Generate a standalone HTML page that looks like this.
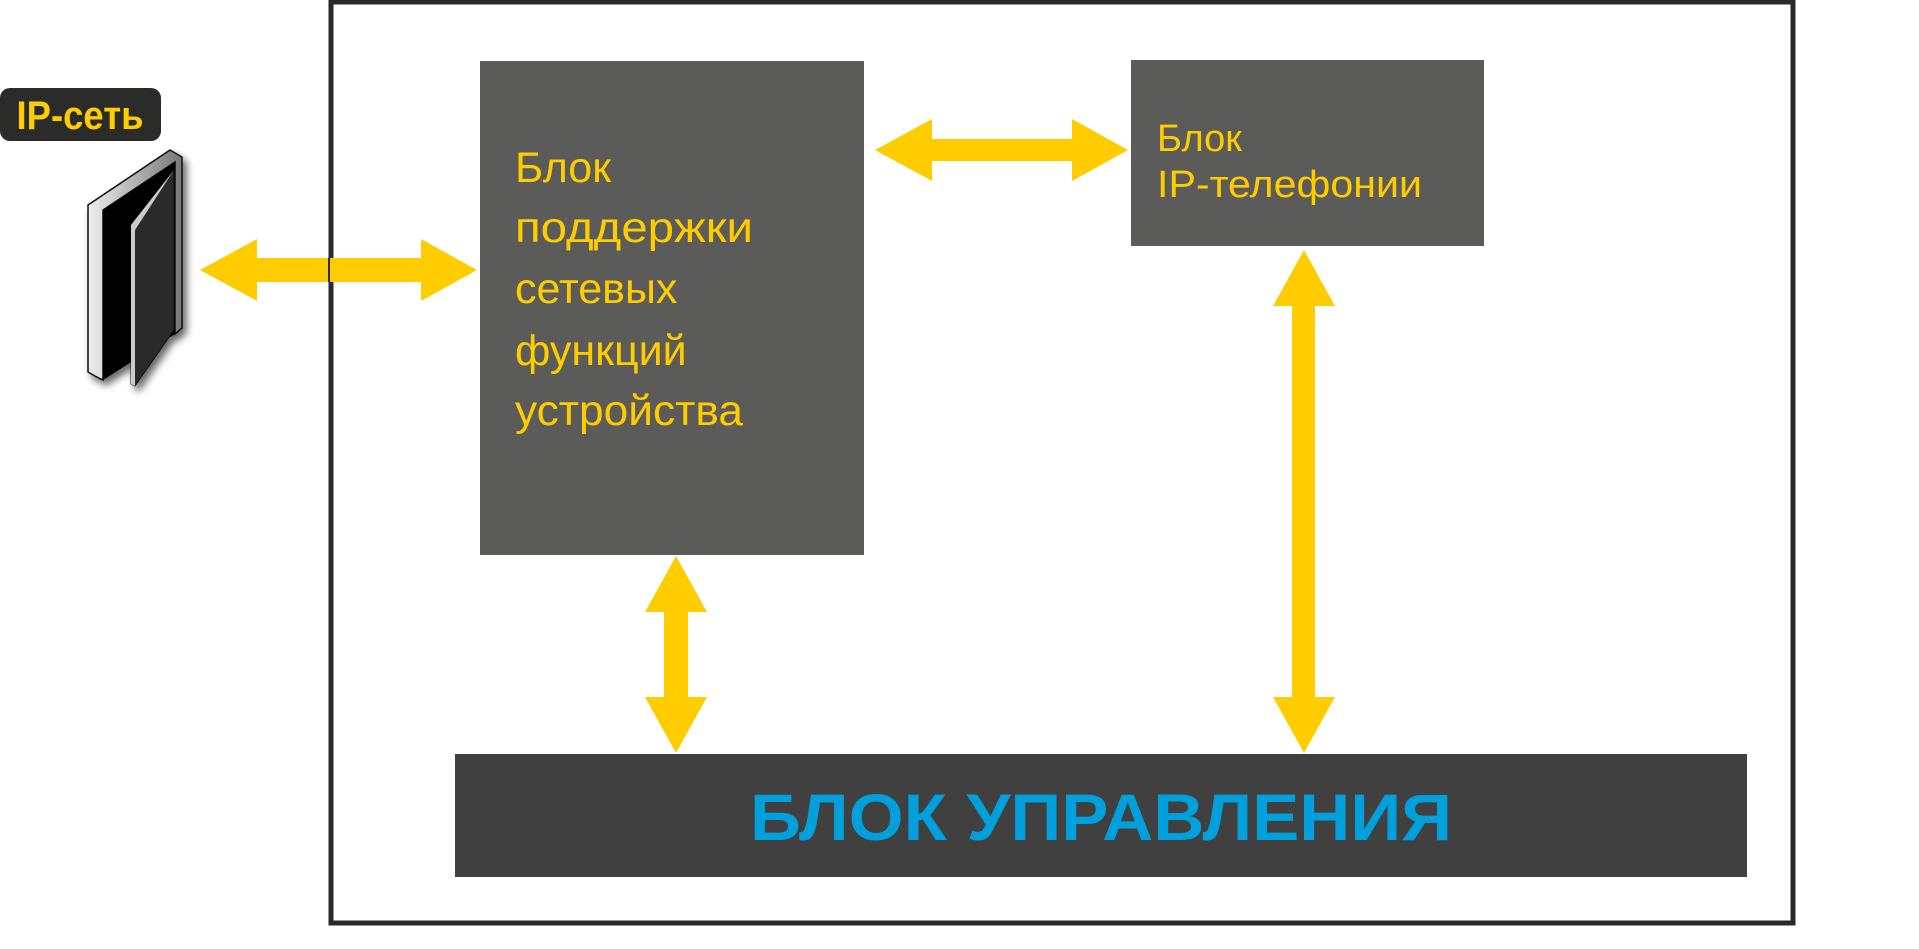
<!DOCTYPE html>
<html><head><meta charset="utf-8"><style>
html,body{margin:0;padding:0;background:#fff;width:1919px;height:949px;overflow:hidden}
svg{display:block}
</style></head><body>
<svg width="1919" height="949" viewBox="0 0 1919 949" xmlns="http://www.w3.org/2000/svg">
<defs>
<filter id="sh" x="-30%" y="-30%" width="160%" height="160%"><feGaussianBlur in="SourceAlpha" stdDeviation="4"/><feOffset dx="4" dy="5"/><feComponentTransfer><feFuncA type="linear" slope="0.6"/></feComponentTransfer><feMerge><feMergeNode/><feMergeNode in="SourceGraphic"/></feMerge></filter>
<linearGradient id="fr" x1="0" x2="1"><stop offset="0" stop-color="#eee"/><stop offset="1" stop-color="#777"/></linearGradient>
</defs>
<rect x="331" y="2" width="1462" height="921" fill="#fff" stroke="#2a2a2a" stroke-width="5"/>
<rect x="0" y="88" width="161" height="53" rx="10" fill="#2b2b29"/>
<text x="80" y="129" text-anchor="middle" font-family="Liberation Sans, sans-serif" font-weight="bold" font-size="40" fill="#ffcc00" textLength="127" lengthAdjust="spacingAndGlyphs">IP-сеть</text>
<g filter="url(#sh)">
<polygon points="88,205 170,150 182,157 182,328 175,334 175,162 103,210 103,380 95,376 88,372" fill="url(#fr)" stroke="#111" stroke-width="1.5"/>
<polygon points="103,210 175,162 175,334 103,380" fill="#000"/>
<polygon points="131,225 174,170 174,330 135,386 131,384" fill="#2b2b2b" stroke="#111" stroke-width="1"/>
<polygon points="131,225 174,170 170,176 135,230 135,386 131,384" fill="#ccc"/>
</g>
<polygon points="200,270 257,239 257,258 421,258 421,239 477,270 421,301 421,282 257,282 257,301" fill="#ffcc00"/>
<line x1="329" y1="258" x2="329" y2="282" stroke="#2a2a2a" stroke-width="2"/>
<rect x="480" y="61" width="384" height="494" fill="#5b5b59"/>
<g font-family="Liberation Sans, sans-serif" font-size="43" fill="#ffcc00">
<text x="515" y="182">Блок</text>
<text x="515" y="242" textLength="238" lengthAdjust="spacingAndGlyphs">поддержки</text>
<text x="515" y="303">сетевых</text>
<text x="515" y="365">функций</text>
<text x="515" y="425" textLength="228" lengthAdjust="spacingAndGlyphs">устройства</text>
</g>
<rect x="1131" y="60" width="353" height="186" fill="#5b5b59"/>
<g font-family="Liberation Sans, sans-serif" font-size="38" fill="#ffcc00">
<text x="1157" y="151">Блок</text>
<text x="1157" y="197" textLength="265" lengthAdjust="spacingAndGlyphs">IP-телефонии</text>
</g>
<polygon points="875,150 932,119 932,139 1072,139 1072,119 1128,150 1072,181 1072,161 932,161 932,181" fill="#ffcc00"/>
<polygon points="676,556 707,612 688,612 688,697 707,697 676,753 645,697 664,697 664,612 645,612" fill="#ffcc00"/>
<polygon points="1304,250 1335,306 1315,306 1315,697 1335,697 1304,753 1273,697 1292,697 1292,306 1273,306" fill="#ffcc00"/>
<rect x="455" y="754" width="1292" height="123" fill="#404040"/>
<text x="1101" y="840" text-anchor="middle" font-family="Liberation Sans, sans-serif" font-weight="bold" font-size="66" fill="#00a0dc" textLength="702" lengthAdjust="spacingAndGlyphs">БЛОК УПРАВЛЕНИЯ</text>
</svg>
</body></html>
